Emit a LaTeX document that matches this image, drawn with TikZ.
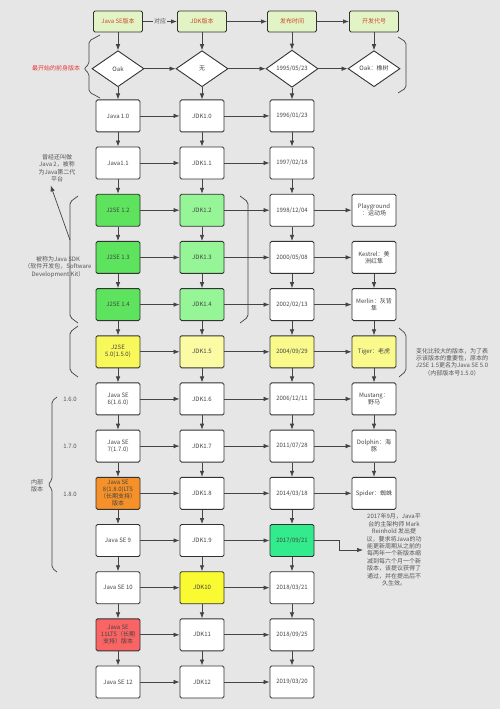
\documentclass[tikz,border=0pt]{standalone}
\usepackage{fontspec}
\newfontfamily\cjk{Noto Sans CJK SC}
\usetikzlibrary{shapes.geometric, arrows.meta}
\definecolor{bg}{HTML}{E6E6E6}
\definecolor{edge}{HTML}{333333}
\definecolor{line}{HTML}{444444}
\definecolor{txt}{HTML}{444444}
\definecolor{notetxt}{HTML}{555555}
\definecolor{headfill}{HTML}{E2F4C6}
\definecolor{headtxt}{HTML}{CC4A2A}
\definecolor{redtxt}{HTML}{E83A3A}
\definecolor{segreen}{HTML}{5DE35D}
\definecolor{jdkgreen}{HTML}{96F596}
\definecolor{seyellow}{HTML}{F8F85A}
\definecolor{paleyellow}{HTML}{FAFA8C}
\definecolor{orange8}{HTML}{F59128}
\definecolor{mint}{HTML}{32EB8C}
\definecolor{yellow10}{HTML}{FAFA32}
\definecolor{red11}{HTML}{FA6464}

\begin{document}
\begin{tikzpicture}[x=1pt, y=-1pt,
  every node/.style={font=\cjk\fontsize{6}{7}\selectfont, text=txt, align=center},
  box/.style={draw=edge, line width=0.9pt, rounded corners=1.5pt, fill=white,
    minimum width=44pt, minimum height=32pt, inner sep=1pt},
  head/.style={box, fill=headfill, text=headtxt, minimum width=49pt, minimum height=21pt},
  dia/.style={diamond, draw=edge, line width=0.9pt, fill=white,
    minimum width=52pt, minimum height=36pt, inner sep=0pt},
  arr/.style={draw=line, line width=0.7pt, -{Latex[length=6pt,width=4.5pt]}},
  brk/.style={draw=line, line width=0.7pt, rounded corners=2pt},
  note/.style={text=notetxt, font=\cjk\fontsize{6}{7.4}\selectfont}]

\fill[bg] (0,0) rectangle (500,709);
\useasboundingbox (0,0) rectangle (500,709);

% header
\node[head] (se0) at (118,21.5) {Java SE版本};
\node[head] (jdk0) at (202,21.5) {JDK版本};
\node[head] (date0) at (292,21.5) {发布时间};
\node[head] (code0) at (374,21.5) {开发代号};

% oak
\node[dia] (se1) at (118,68.7) {Oak};
\node[dia] (jdk1) at (202,68.7) {无};
\node[dia] (date1) at (292,68.7) {1995/05/23};
\node[dia] (code1) at (374,68.7) {Oak：橡树};

\node[box] (se2) at (118,115.9) {Java 1.0};
\node[box] (jdk2) at (202,115.9) {JDK1.0};
\node[box] (date2) at (292,115.9) {1996/01/23};

\node[box] (se3) at (118,163) {Java1.1};
\node[box] (jdk3) at (202,163) {JDK1.1};
\node[box] (date3) at (292,163) {1997/02/18};

\node[box, fill=segreen] (se4) at (118,210.2) {J2SE 1.2};
\node[box, fill=jdkgreen] (jdk4) at (202,210.2) {JDK1.2};
\node[box] (date4) at (292,210.2) {1998/12/04};
\node[box] (code4) at (374,210.2) {Playground\\：运动场};

\node[box, fill=segreen] (se5) at (118,257.4) {J2SE 1.3};
\node[box, fill=jdkgreen] (jdk5) at (202,257.4) {JDK1.3};
\node[box] (date5) at (292,257.4) {2000/05/08};
\node[box] (code5) at (374,257.4) {Kestrel：美\\洲红隼};

\node[box, fill=segreen] (se6) at (118,304.6) {J2SE 1.4};
\node[box, fill=jdkgreen] (jdk6) at (202,304.6) {JDK1.4};
\node[box] (date6) at (292,304.6) {2002/02/13};
\node[box] (code6) at (374,304.6) {Merlin：灰背\\隼};

\node[box, fill=seyellow] (se7) at (118,351.8) {J2SE\\5.0(1.5.0)};
\node[box, fill=paleyellow!80!white] (jdk7) at (202,351.8) {JDK1.5};
\node[box, fill=paleyellow] (date7) at (292,351.8) {2004/09/29};
\node[box, fill=paleyellow] (code7) at (374,351.8) {Tiger：老虎};

\node[box] (se8) at (118,398.9) {Java SE\\6(1.6.0)};
\node[box] (jdk8) at (202,398.9) {JDK1.6};
\node[box] (date8) at (292,398.9) {2006/12/11};
\node[box] (code8) at (374,398.9) {Mustang：\\野马};

\node[box] (se9) at (118,446.1) {Java SE\\7(1.7.0)};
\node[box] (jdk9) at (202,446.1) {JDK1.7};
\node[box] (date9) at (292,446.1) {2011/07/28};
\node[box] (code9) at (374,446.1) {Dolphin：海\\豚};

\node[box, fill=orange8] (se10) at (118,493.3) {Java SE\\8(1.8.0)LTS\\（长期支持）\\版本};
\node[box] (jdk10) at (202,493.3) {JDK1.8};
\node[box] (date10) at (292,493.3) {2014/03/18};
\node[box] (code10) at (374,493.3) {Spider：蜘蛛};

\node[box] (se11) at (118,540.5) {Java SE 9};
\node[box] (jdk11) at (202,540.5) {JDK1.9};
\node[box, fill=mint] (date11) at (292,540.5) {2017/09/21};

\node[box] (se12) at (118,587.7) {Java SE 10};
\node[box, fill=yellow10] (jdk12) at (202,587.7) {JDK10};
\node[box] (date12) at (292,587.7) {2018/03/21};

\node[box, fill=red11] (se13) at (118,634.8) {Java SE\\11LTS（长期\\支持）版本};
\node[box] (jdk13) at (202,634.8) {JDK11};
\node[box] (date13) at (292,634.8) {2018/09/25};

\node[box] (se14) at (118,682) {Java SE 12};
\node[box] (jdk14) at (202,682) {JDK12};
\node[box] (date14) at (292,682) {2019/03/20};

% arrows
\draw[arr] (se0) -- node[fill=bg, inner sep=1pt, text=notetxt]{对应} (jdk0);
\foreach \i in {1,...,14} \draw[arr] (se\i) -- (jdk\i);
\foreach \i in {0,...,14} \draw[arr] (jdk\i) -- (date\i);
\foreach \i in {0,1,4,5,6,7,8,9,10} \draw[arr] (date\i) -- (code\i);
\foreach \i [evaluate=\i as \j using int(\i+1)] in {0,...,13} {
  \draw[arr] (se\i) -- (se\j);
  \draw[arr] (jdk\i) -- (jdk\j);
  \draw[arr] (date\i) -- (date\j);
}
\foreach \i [evaluate=\i as \j using int(\i+1)] in {0,5,6,7,8,9} \draw[arr] (code\i) -- (code\j);

% notes
\node[text=redtxt] (first) at (56,68.7) {最开始的前身版本};
\node[note] (java2) at (57,168) {曾经还叫做\\Java 2，被称\\为Java第二代\\平台};
\node[note] (sdk) at (58,267) {被称为Java SDK\\（软件开发包，Software\\Development Kit）};
\node[note] (rename) at (452,362) {变化比较大的版本，为了表\\示该版本的重要性，原本的\\J2SE 1.5更名为Java SE 5.0\\（内部版本号1.5.0）};
\node[note] (inner) at (37,486) {内部\\版本};
\node[note] (v6) at (70,399) {1.6.0};
\node[note] (v7) at (70,446) {1.7.0};
\node[note] (v8) at (70,494) {1.8.0};
\node[note, anchor=west] (note17) at (363,550) {2017年9月，Java平\\台的主架构师 Mark\\Reinhold 发出提\\议，要求将Java的功\\能更新周期从之前的\\每两年一个新版本缩\\减到每六个月一个新\\版本，该提议获得了\\通过，并在提出后不\\久生效。};
\draw[arr] (date11.east) -- ++(25,0) |- (note17.west);

% braces
\draw[brk] (100,35) -- (89,41) -- (89,64) -- (84,68.7) -- (89,73.5) -- (89,92) -- (100,98);
\draw[brk] (398,37) -- (406,42) -- (406,88) -- (398,93);
\draw[brk] (78,196) -- (70,202) -- (70,317) -- (78,323);
\draw[brk] (240,196) -- (248,202) -- (248,317) -- (240,323);
\draw[brk] (78,326) -- (70,332) -- (70,371) -- (78,377);
\draw[brk] (399,328) -- (406,334) -- (406,371) -- (399,377);
\draw[brk] (57,397) -- (52,401) -- (52,480) -- (48,484.5) -- (52,489) -- (52,568) -- (57,572);
\coordinate (brkmid) at (70,240);
\draw[arr] (brkmid) -- (java2.250);
\end{tikzpicture}
\end{document}
